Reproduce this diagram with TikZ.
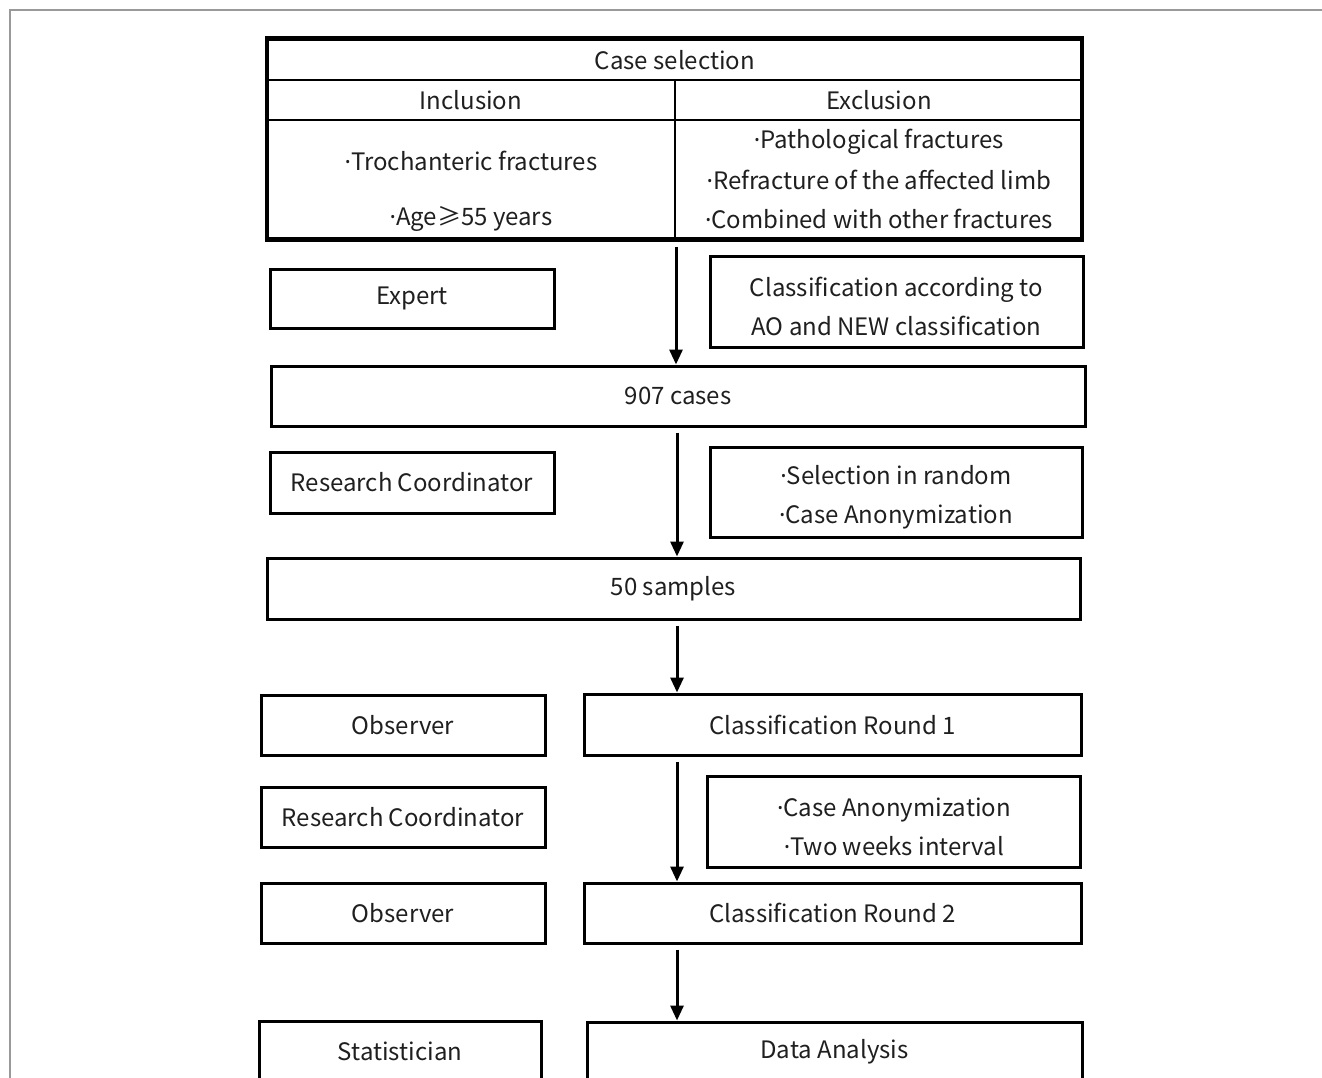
\documentclass[tikz,border=0pt]{standalone}
\usepackage{fontspec}
\setmainfont{Noto Sans CJK SC}
\newfontfamily\latinfont{Noto Sans}
\newcommand{\mdot}{{\latinfont ·}}
\usetikzlibrary{arrows.meta,calc}
\begin{document}
\begin{tikzpicture}[x=1pt,y=-1pt,
  every node/.style={font=\fontsize{24}{39}\selectfont, text=black!88},
  box/.style={draw, line width=3pt, inner sep=0pt, align=center, minimum height=60pt},
  txt/.style={inner sep=0pt, align=center},
  arr/.style={line width=3pt, -{Triangle[length=15pt,width=13pt]}, shorten <=5pt},
  framel/.style={draw=black!40, line width=1.2pt}
]
\useasboundingbox (0,0) rectangle (1322,1077);
\clip (0,0) rectangle (1322,1077);
% outer frame
\draw[framel] (1322,10) -- (10,10) -- (10,1080);

% case selection table
\node[draw, line width=4.5pt, inner sep=0pt, minimum width=815pt, minimum height=201pt] (tab) at (674.5,139) {};
\draw[line width=2pt] (tab.west |- 0,80) -- (tab.east |- 0,80);
\draw[line width=2pt] (tab.west |- 0,120) -- (tab.east |- 0,120);
\draw[line width=2pt] (675,80) -- (tab.south -| 675,0);
\node[txt] (cs) at (675,60) {Case selection};
\node[txt] (inc) at (471,100) {Inclusion};
\node[txt] (exc) at (879,100) {Exclusion};
\node[txt] (inc1) at (471,161) {\mdot Trochanteric fractures};
\node[txt] (inc2) at (471,219) {\mdot Age≥55 years};
\node[txt] (exc1) at (879,142) {\mdot Pathological fractures};
\node[txt] (exc2) at (879,180) {\mdot Refracture of the affected limb};
\node[txt] (exc3) at (879,219) {\mdot Combined with other fractures};

% boxes
\node[box, minimum width=284pt, minimum height=59pt] (expert) at (412,298.5) {Expert};
\node[box, minimum width=373pt, minimum height=91pt] (classao) at (896.5,301.5) {};
\node[txt] (classaot) at (896.5,306) {Classification according to\\AO and NEW classification};
\node[box, minimum width=814pt] (c907) at (678,396) {907 cases};
\node[box, minimum width=284pt, minimum height=61pt] (rc1) at (412,482.5) {Research Coordinator};
\node[box, minimum width=372pt, minimum height=90pt] (sel) at (896,492) {};
\node[txt] (selt) at (896,497) {\mdot Selection in random\\\mdot Case Anonymization};
\node[box, minimum width=813pt, minimum height=61pt] (s50) at (673.5,588.5) {50 samples};
\node[box, minimum width=284pt] (obs1) at (403,725) {Observer};
\node[box, minimum width=497pt, minimum height=61pt] (r1) at (832.5,724.5) {Classification Round 1};
\node[box, minimum width=284pt] (rc2) at (403,817) {Research Coordinator};
\node[box, minimum width=373pt, minimum height=91pt] (anon) at (893.5,821.5) {};
\node[txt] (anont) at (894,826.5) {\mdot Case Anonymization\\\mdot Two weeks interval};
\node[box, minimum width=284pt] (obs2) at (403,913) {Observer};
\node[box, minimum width=497pt] (r2) at (832.5,913) {Classification Round 2};
\node[box, minimum width=282pt] (stat) at (400,1051) {Statistician};
\node[box, minimum width=495pt] (da) at (834.5,1052) {Data Analysis};

% arrows
\coordinate (colA) at (676,0);
\coordinate (colB) at (677,0);
\draw[arr] (tab.south -| colA) -- (c907.north -| colA);
\draw[arr] (c907.south -| colB) -- (s50.north -| colB);
\draw[arr] (s50.south -| colB) -- (r1.north -| colB);
\draw[arr] (r1.south -| colB) -- (r2.north -| colB);
\draw[arr] (r2.south -| colB) -- (da.north -| colB);
\end{tikzpicture}
\end{document}
